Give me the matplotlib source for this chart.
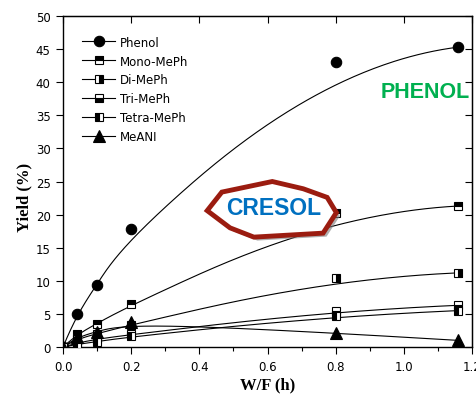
import numpy as np
import matplotlib
matplotlib.use("Agg")
import matplotlib.pyplot as plt
from matplotlib.patches import Polygon
from matplotlib import patheffects as pe

# Space time (W/F, h) and product yields (%)
wf = [0.0, 0.04, 0.1, 0.2, 0.8, 1.16]
phenol = [0.0, 5.0, 9.3, 17.8, 43.0, 45.3]
mono_meph = [0.0, 1.9, 3.5, 6.5, 20.3, 21.3]
di_meph = [0.0, 1.2, 2.0, 3.4, 10.4, 11.2]
tri_meph = [0.0, 0.6, 1.2, 1.9, 5.5, 6.3]
tetra_meph = [0.0, 0.4, 0.8, 1.6, 4.7, 5.5]
meani = [0.0, 1.5, 2.3, 3.8, 2.1, 1.0]

labels = ["Phenol", "Mono-MePh", "Di-MePh", "Tri-MePh", "Tetra-MePh", "MeANI"]


def bspline(x, y, degree=3, n_out=400):
    """Clamped uniform B-spline that uses the data points as control points."""
    P = np.column_stack([x, y]).astype(float)
    n = len(P)
    k = min(degree, n - 1)
    inner = np.arange(1, n - k)
    knots = np.concatenate([np.zeros(k + 1), inner, np.full(k + 1, n - k)])
    u = np.linspace(0, n - k, n_out)
    u[-1] -= 1e-9

    def basis(i, p, uu):
        if p == 0:
            return ((knots[i] <= uu) & (uu < knots[i + 1])).astype(float)
        out = np.zeros_like(uu)
        d1 = knots[i + p] - knots[i]
        d2 = knots[i + p + 1] - knots[i + 1]
        if d1 > 0:
            out += (uu - knots[i]) / d1 * basis(i, p - 1, uu)
        if d2 > 0:
            out += (knots[i + p + 1] - uu) / d2 * basis(i + 1, p - 1, uu)
        return out

    B = np.column_stack([basis(i, k, u) for i in range(n)])
    C = B @ P
    return C[:, 0], C[:, 1]


plt.rcParams["font.family"] = "DejaVu Sans"

fig = plt.figure(figsize=(4.76, 4.02), dpi=100)
ax = fig.add_axes([0.1324, 0.1343, 0.8592, 0.8234])

series = [phenol, mono_meph, di_meph, tri_meph, tetra_meph, meani]
styles = [
    dict(marker="o", ms=7.5, fillstyle="full"),
    dict(marker="s", ms=6.0, fillstyle="top"),
    dict(marker="s", ms=6.0, fillstyle="right"),
    dict(marker="s", ms=6.0, fillstyle="bottom"),
    dict(marker="s", ms=6.0, fillstyle="left"),
    dict(marker="^", ms=8.0, fillstyle="full"),
]

for ys, lab, st in zip(series, labels, styles):
    cx, cy = bspline(wf, ys)
    ax.plot(cx, cy, color="black", lw=0.8, zorder=2)
    ax.plot(wf, ys, linestyle="none", color="black", markerfacecolor="black",
            markerfacecoloralt="white", markeredgecolor="black",
            markeredgewidth=0.8, zorder=3, **st)
    # legend proxy: line with marker
    ax.plot([], [], color="black", lw=0.8, markerfacecolor="black",
            markerfacecoloralt="white", markeredgecolor="black",
            markeredgewidth=0.8, label=lab, **st)

ax.set_xlim(0, 1.2)
ax.set_ylim(0, 50)
ax.set_xticks(np.arange(0, 1.21, 0.2))
ax.set_xticks(np.arange(0.1, 1.2, 0.2), minor=True)
ax.set_yticks(np.arange(0, 51, 5))
ax.set_xticklabels([f"{v:.1f}" for v in np.arange(0, 1.21, 0.2)])
ax.tick_params(axis="both", which="major", direction="out", length=5,
               width=0.8, labelsize=8.5, colors="black", pad=4)
ax.tick_params(axis="x", which="minor", direction="out", length=3, width=0.8)
for s in ax.spines.values():
    s.set_linewidth(1.0)

# inward ticks on the top and right spines
top = ax.secondary_xaxis("top")
top.set_xticks(np.arange(0, 1.21, 0.2))
top.tick_params(direction="in", length=5, width=0.8, labeltop=False)
right = ax.secondary_yaxis("right")
right.set_yticks(np.arange(0, 51, 5))
right.tick_params(direction="in", length=5, width=0.8, labelright=False)

ax.set_xlabel("W/F (h)", fontsize=12, fontweight="bold",
              family="Liberation Serif", labelpad=3)
ax.set_ylabel("Yield (%)", fontsize=12, fontweight="bold",
              family="Liberation Serif")
ax.yaxis.set_label_coords(-0.075, 0.456)

ax.legend(loc="upper left", bbox_to_anchor=(0.035, 0.955), frameon=False,
          fontsize=8.5, handlelength=2.8, handletextpad=0.4,
          labelspacing=0.5, borderaxespad=0)

# product group labels
ax.text(1.063, 38.6, "PHENOL", color="#00B050", fontsize=15.5,
        fontweight="bold", ha="center", va="center", family="Liberation Sans")

octagon = [(0.423, 20.6), (0.466, 23.4), (0.614, 25.0), (0.705, 23.9),
           (0.775, 22.6), (0.802, 20.3), (0.763, 17.2), (0.560, 16.6),
           (0.490, 18.0)]
badge = Polygon(octagon, closed=True, facecolor="white", edgecolor="#9B1C10",
                lw=3.5, zorder=5, joinstyle="miter")
badge.set_path_effects([pe.SimplePatchShadow(offset=(2.5, -2.5),
                                             shadow_rgbFace="#7a7a7a", alpha=0.6),
                        pe.Normal()])
ax.add_patch(badge)
ax.text(0.618, 21.0, "CRESOL", color="#0070C0", fontsize=16.5,
        fontweight="bold", ha="center", va="center", zorder=6,
        family="Liberation Sans")

fig.savefig("out.png", dpi=100)
